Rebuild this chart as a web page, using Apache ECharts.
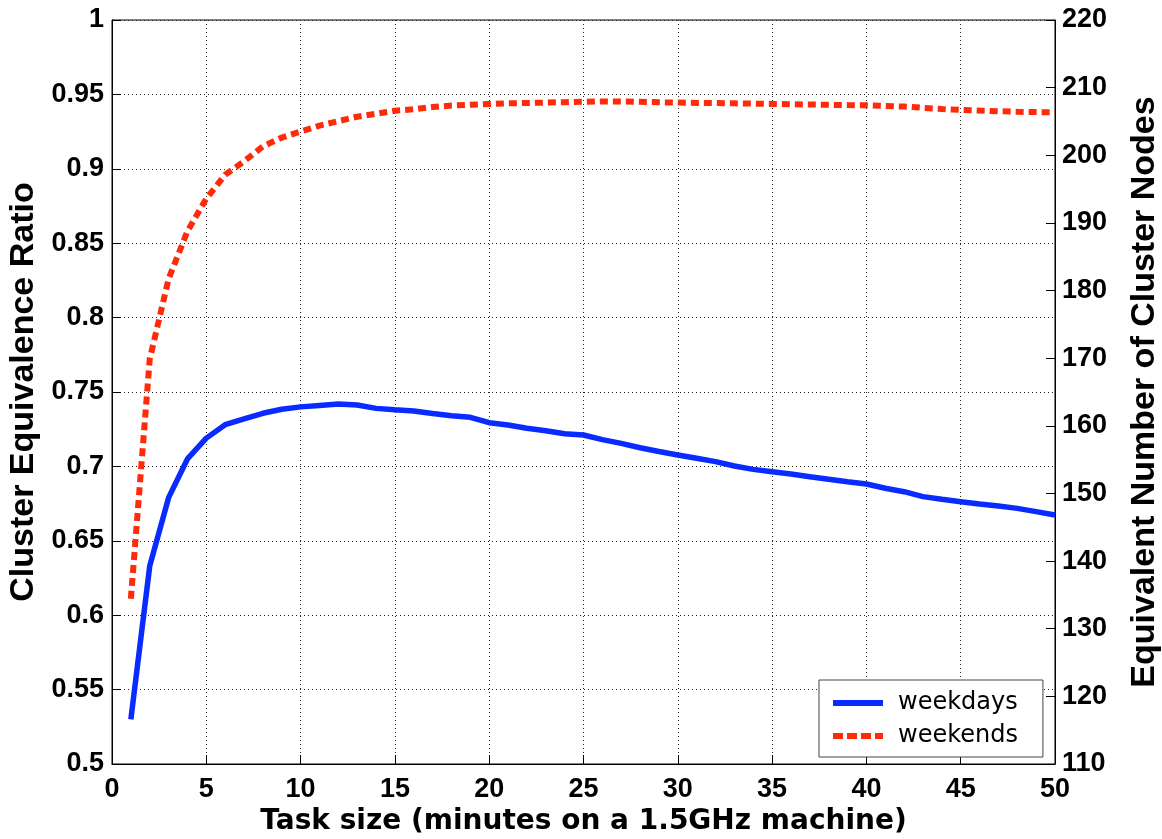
<!DOCTYPE html>
<html>
<head>
<meta charset="utf-8">
<script src="https://cdn.jsdelivr.net/npm/echarts@6/dist/echarts.min.js"></script>
<style>html,body{margin:0;padding:0;background:#fff;overflow:hidden}#c{width:1162px;height:839px}</style>
</head>
<body>
<div id="c"></div>
<script>
const taskSize = [1,2,3,4,5,6,7,8,9,10,11,12,13,14,15,16,17,18,19,20,21,22,23,24,25,26,27,28,29,30,31,32,33,34,35,36,37,38,39,40,41,42,43,44,45,46,47,48,49,50];
const weekdays = [0.530,0.633,0.679,0.705,0.719,0.728,0.732,0.7357,0.7384,0.740,0.741,0.742,0.7413,0.739,0.738,0.7372,0.7355,0.734,0.733,0.7294,0.7278,0.7256,0.724,0.722,0.7211,0.718,0.7155,0.7125,0.710,0.7077,0.7055,0.7032,0.7003,0.698,0.6964,0.6949,0.6931,0.6913,0.6897,0.6882,0.6853,0.683,0.6797,0.6779,0.6763,0.6747,0.6734,0.6718,0.6696,0.6673];
const weekends = [0.611,0.772,0.826,0.858,0.880,0.896,0.905,0.915,0.921,0.925,0.929,0.932,0.935,0.937,0.939,0.940,0.9415,0.9425,0.943,0.9435,0.944,0.9442,0.9445,0.9448,0.945,0.9453,0.9452,0.945,0.9447,0.9445,0.9443,0.9442,0.944,0.9438,0.9436,0.9434,0.9432,0.943,0.9428,0.9427,0.9423,0.9418,0.941,0.9402,0.9396,0.9391,0.9387,0.9383,0.9381,0.938];
const seriesNames = ['weekdays','weekends'];
const xTitle = 'Task size (minutes on a 1.5GHz machine)';
const yLeftTitle = 'Cluster Equivalence Ratio';
const yRightTitle = 'Equivalent Number of Cluster Nodes';

const BLUE = '#0a2bff', RED = '#ff2a0a';
const chart = echarts.init(document.getElementById('c'), null, {renderer:'canvas', width:1162, height:839});
const pair = (xs, ys) => xs.map((x,i)=>[x, ys[i]]);
const gridLine = {show:true, lineStyle:{color:'#222', width:1, type:[1,3]}};
const axisLine = {show:true, lineStyle:{color:'#000', width:1}};
const tick = {show:true, inside:true, length:9, lineStyle:{color:'#000', width:1}};
const tickLabel = {color:'#000', fontFamily:'Liberation Sans', fontSize:27, fontWeight:'bold'};
const rotName = {color:'#000', fontFamily:'Liberation Sans', fontSize:34, fontWeight:'bold'};
const xName = {color:'#000', fontFamily:'DejaVu Sans', fontSize:28, fontWeight:'bold'};

chart.setOption({
  animation:false,
  backgroundColor:'#fff',
  grid:{left:112, right:107, top:20, bottom:75, containLabel:false, outerBoundsMode:'none',
        show:true, borderColor:'#000', borderWidth:1, backgroundColor:'#fff'},
  legend:{
    orient:'vertical', left:819, top:680,
    data:[
      {name:seriesNames[0], icon:'path://M0,0h50v6h-50z'},
      {name:seriesNames[1], icon:'path://M0,0h10v6h-10z M14,0h10v6h-10z M28,0h10v6h-10z M42,0h8v6h-8z'}
    ],
    backgroundColor:'#fff', borderColor:'#444', borderWidth:1, borderRadius:0,
    padding:[11,25,9,14], itemGap:9, itemWidth:50, itemHeight:6,
    textStyle:{color:'#000', fontFamily:'DejaVu Sans', fontSize:24, fontWeight:'normal', padding:[0,0,0,10]}
  },
  xAxis:{
    type:'value', min:0, max:50, interval:5,
    name:xTitle, nameLocation:'middle', nameGap:44, nameTextStyle:xName,
    axisLine:axisLine, axisTick:tick, splitLine:gridLine,
    axisLabel:Object.assign({margin:12}, tickLabel)
  },
  yAxis:[
    {
      type:'value', min:0.5, max:1, interval:0.05, position:'left',
      name:yLeftTitle, nameLocation:'middle', nameGap:65, nameRotate:90, nameTextStyle:rotName,
      axisLine:axisLine, axisTick:tick, splitLine:gridLine,
      axisLabel:Object.assign({margin:8, formatter:v=>String(+v.toFixed(2))}, tickLabel)
    },
    {
      type:'value', min:110, max:220, interval:10, position:'right',
      name:yRightTitle, nameLocation:'middle', nameGap:73, nameRotate:90, nameTextStyle:rotName,
      axisLine:axisLine, axisTick:tick, splitLine:{show:false},
      axisLabel:Object.assign({margin:7}, tickLabel)
    }
  ],
  series:[
    {name:seriesNames[0], type:'line', yAxisIndex:0, data:pair(taskSize, weekdays), showSymbol:false, symbol:'none',
     lineStyle:{color:BLUE, width:5.5}, itemStyle:{color:BLUE}, z:3},
    {name:seriesNames[1], type:'line', yAxisIndex:0, data:pair(taskSize, weekends), showSymbol:false, symbol:'none',
     lineStyle:{color:RED, width:6, type:[8,5]}, itemStyle:{color:RED}, z:3}
  ]
});
</script>
</body>
</html>
